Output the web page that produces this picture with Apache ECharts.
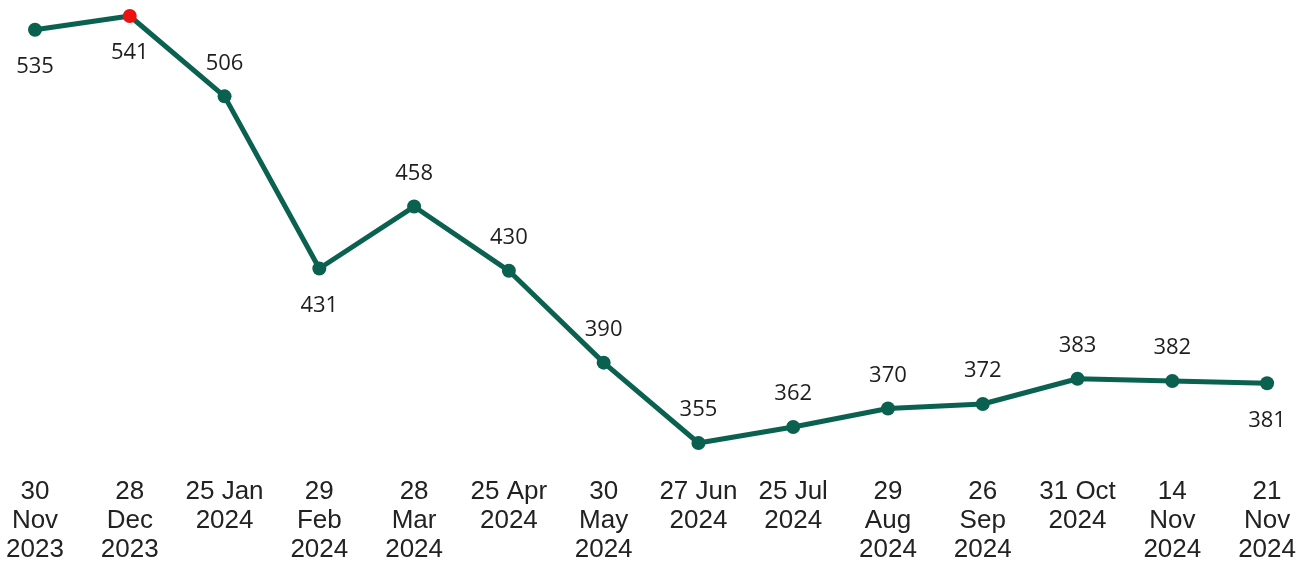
<!DOCTYPE html>
<html>
<head>
<meta charset="utf-8">
<script src="https://cdn.jsdelivr.net/npm/echarts@6/dist/echarts.min.js"></script>
<style>
  html, body { margin: 0; padding: 0; background: #fff; }
  #chart { width: 1299px; height: 566px; }
</style>
</head>
<body>
<div id="chart"></div>
<script>
// 日期标签
var dates = ['30\nNov\n2023', '28\nDec\n2023', '25 Jan\n2024', '29\nFeb\n2024', '28\nMar\n2024',
  '25 Apr\n2024', '30\nMay\n2024', '27 Jun\n2024', '25 Jul\n2024', '29\nAug\n2024',
  '26\nSep\n2024', '31 Oct\n2024', '14\nNov\n2024', '21\nNov\n2024'];
// 数值
var values = [535, 541, 506, 431, 458, 430, 390, 355, 362, 370, 372, 383, 382, 381];
// 标签放在点下方的序号
var labelBelow = [0, 1, 3, 13];

var maxIdx = values.indexOf(Math.max.apply(null, values));

var seriesData = values.map(function (v, i) {
  var item = { value: v };
  if (labelBelow.indexOf(i) >= 0) {
    item.label = { position: 'bottom', distance: 19 };
  }
  if (i === maxIdx) {
    item.itemStyle = { color: '#ee1111' };
  }
  return item;
});

var chart = echarts.init(document.getElementById('chart'));
var option = {
  animation: false,
  grid: { left: 35, right: 29, top: 16, bottom: 123 },
  xAxis: {
    type: 'category',
    data: dates,
    boundaryGap: false,
    axisLine: { show: false },
    axisTick: { show: false },
    splitLine: { show: false },
    axisLabel: {
      interval: 0,
      margin: 34,
      fontFamily: 'Liberation Sans',
      fontSize: 26,
      lineHeight: 29,
      color: '#222'
    }
  },
  yAxis: {
    type: 'value',
    min: 355,
    max: 541,
    show: false
  },
  series: [{
    type: 'line',
    data: seriesData,
    clip: false,
    symbol: 'circle',
    symbolSize: 14,
    lineStyle: { color: '#0b6150', width: 5 },
    itemStyle: { color: '#0b6150' },
    label: {
      show: true,
      position: 'top',
      distance: 15,
      fontFamily: 'Open Sans',
      fontSize: 22,
      color: '#1e1e1e'
    }
  }]
};
chart.setOption(option);
</script>
</body>
</html>
